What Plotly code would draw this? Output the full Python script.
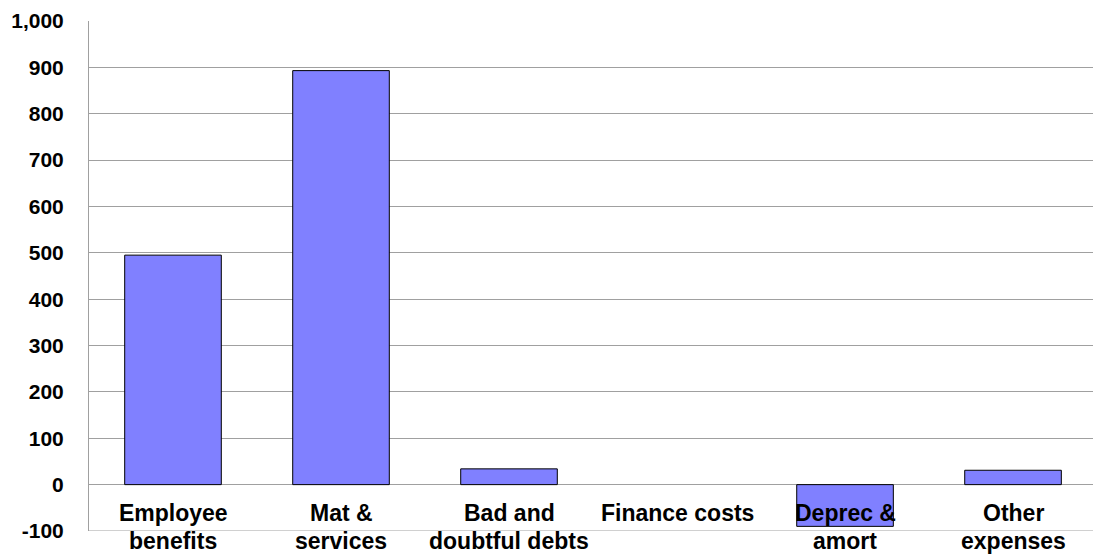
import plotly.graph_objects as go

categories = ["Employee\nbenefits", "Mat &\nservices", "Bad and\ndoubtful debts",
              "Finance costs", "Deprec &\namort", "Other\nexpenses"]
values = [495, 893, 34, 0, -90, 31]
tick_vals = [-100, 0, 100, 200, 300, 400, 500, 600, 700, 800, 900, 1000]
tick_labels = ["-100", "0", "100", "200", "300", "400", "500", "600", "700", "800", "900", "1,000"]

GRID = "#a0a0a0"
xs = list(range(len(categories)))
outline_widths = [1 if v != 0 else 0 for v in values]

fig = go.Figure()
fig.add_trace(go.Bar(
    x=xs, y=values, width=0.575,
    marker=dict(color="#8080FF", line=dict(color="#000000", width=outline_widths)),
    hoverinfo="skip",
))

annotations = []
for i, lab in enumerate(categories):
    for j, line in enumerate(lab.split("\n")):
        annotations.append(dict(
            x=i, y=0, xref="x", yref="y", text=line, showarrow=False,
            xanchor="center", yanchor="middle", yshift=-(28 + 28 * j),
            font=dict(family="Liberation Sans, Arial", size=23, color="#000000", weight="bold"),
        ))

fig.update_layout(
    width=1093, height=555,
    margin=dict(l=89, r=0, t=21, b=24, pad=0),
    paper_bgcolor="white", plot_bgcolor="white",
    showlegend=False,
    annotations=annotations,
    xaxis=dict(range=[-0.5, 5.476], showticklabels=False, showgrid=False,
               zeroline=False, showline=False, ticks=""),
    yaxis=dict(range=[-100, 1000], tickvals=tick_vals, ticktext=tick_labels,
               tickfont=dict(family="Liberation Sans, Arial", size=21, color="#000000", weight="bold"),
               showgrid=True, gridcolor=GRID, gridwidth=1,
               zeroline=True, zerolinecolor=GRID, zerolinewidth=1,
               showline=True, linecolor=GRID, linewidth=1, mirror=False,
               ticks="", ticklabelstandoff=20),
    shapes=[dict(type="line", xref="paper", yref="y", x0=0, x1=1, y0=-100, y1=-100,
                 line=dict(color=GRID, width=1), layer="below")],
)

fig.write_html("out.html")
